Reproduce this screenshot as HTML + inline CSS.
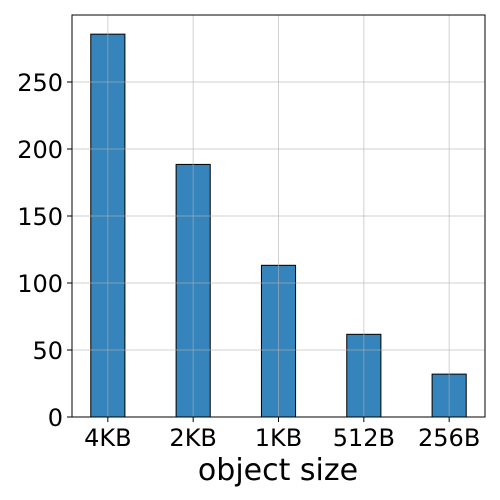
<!DOCTYPE html>
<html><head><meta charset="utf-8"><style>
html,body{margin:0;padding:0;background:#fff;}
svg{display:block;font-family:"DejaVu Sans","Liberation Sans",sans-serif;}
</style></head><body>
<svg id="chart" width="500" height="500" viewBox="0 0 500 500">
<rect x="0" y="0" width="500" height="500" fill="#fff"/>
<g id="grid"></g>
<g id="bars"></g>
<g id="axes"></g>
<text x="278" y="480" font-size="30" text-anchor="middle" fill="#000">object size</text>
</svg>
<script>
const categories = ["4KB","2KB","1KB","512B","256B"];
const values = [285.7, 188.5, 113.2, 61.7, 32.0];
const yTicks = [0,50,100,150,200,250];
const L=72,R=485,T=15,B=417;
const xMin=-0.42,xMax=4.42,yMin=0,yMax=300;
const xs=i=>L+(i-xMin)/(xMax-xMin)*(R-L);
const ys=v=>B-(v-yMin)/(yMax-yMin)*(B-T);
const NS="http://www.w3.org/2000/svg";
function mk(tag,attrs,parent){const e=document.createElementNS(NS,tag);for(const k in attrs)e.setAttribute(k,attrs[k]);parent.appendChild(e);return e;}
const grid=document.getElementById('grid'),bars=document.getElementById('bars'),axes=document.getElementById('axes');
const bw=0.4*(R-L)/(xMax-xMin);
categories.forEach((c,i)=>{
  const x=xs(i);
  const r=mk('rect',{x:x-bw/2,y:ys(values[i]),width:bw,height:ys(0)-ys(values[i]),fill:'#1f77b4','fill-opacity':0.9,stroke:'#000','stroke-width':1},bars);
  
  
  const g=mk('line',{x1:x,x2:x,y1:T,y2:B,stroke:'#b0b0b0','stroke-opacity':0.6,'stroke-width':1},axes);
  
  
  const tk=mk('line',{x1:x,x2:x,y1:B,y2:B+5,stroke:'#000','stroke-width':1},axes);
  
  
  const t=mk('text',{x:x,y:B+29,'font-size':24,'text-anchor':'middle',fill:'#000'},axes);
  t.textContent=c;
  
  
});
yTicks.forEach(v=>{
  const y=ys(v);
  const g=mk('line',{x1:L,x2:R,y1:y,y2:y,stroke:'#b0b0b0','stroke-opacity':0.6,'stroke-width':1},axes);
  
  
  const tk=mk('line',{x1:L-5,x2:L,y1:y,y2:y,stroke:'#000','stroke-width':1},axes);
  
  
  const t=mk('text',{x:L-9,y:y+9,'font-size':24,'text-anchor':'end',fill:'#000'},axes);
  t.textContent=v;
  
  
});
const f=mk('rect',{x:L,y:T,width:R-L,height:B-T,fill:'none',stroke:'#000','stroke-width':1},axes);


</script>
</body></html>
